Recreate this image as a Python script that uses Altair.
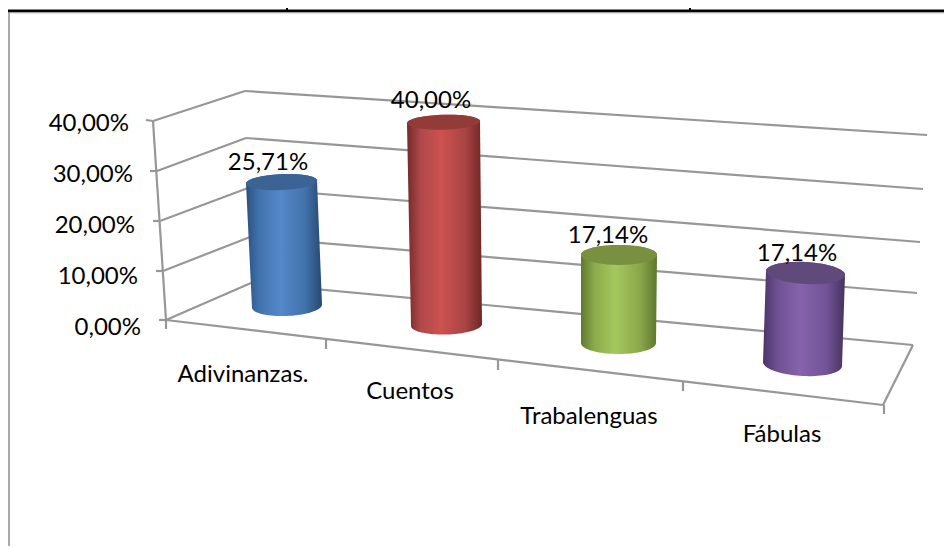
import math
import altair as alt
import pandas as pd

# ---- chart values ----
categories = ["Adivinanzas.", "Cuentos", "Trabalenguas", "Fábulas"]
values = [25.71, 40.00, 17.14, 17.14]
value_labels = ["25,71%", "40,00%", "17,14%", "17,14%"]
y_ticks = ["40,00%", "30,00%", "20,00%", "10,00%", "0,00%"]

# ---- perspective geometry of the picture (page pixels) ----
base_cx = [287, 446.5, 618.5, 802.5]
base_cy = [306, 325, 343, 364]
base_rx = [35, 35.5, 37.5, 39.5]
base_ry = [10, 9.5, 11, 12]
top_cx = [281.5, 443.5, 619, 805.5]
top_rx = [35.5, 36.5, 38, 39.5]
top_ry = [8, 7.5, 10, 11]
px_per_unit = [4.82, 5.07, 5.14, 5.31]
tilt = [-1.5, -1, 0, 2]

stops = [
    ["#2b5180", "#4273ad", "#5588c9", "#4272ab", "#25486f"],
    ["#722b29", "#b0474a", "#cc5250", "#a84442", "#6e2826"],
    ["#5f7a2f", "#8cab4c", "#a5c85e", "#89a74a", "#5e772e"],
    ["#4a3569", "#6f5193", "#8663ac", "#715396", "#46325f"],
]
cap_colors = ["#3b6495", "#933b39", "#78903f", "#604a7b"]

grid_color = "#979797"
grid_lines = [
    # (x1, y1, x2, y2)
    (153, 121, 245, 91), (245, 91, 927, 135),
    (157, 171, 246, 138), (246, 138, 923, 189),
    (160, 221, 248, 188), (248, 188, 920, 242),
    (163, 271, 250, 237), (250, 237, 917, 293),
    (166, 320, 251, 283), (251, 283, 913, 345),
    (153, 121, 166, 320),
    (166, 320, 883, 405), (883, 405, 913, 345),
    (146, 120, 153, 121), (150, 171, 157, 171), (153, 221, 160, 221),
    (156, 271, 163, 271), (159, 320, 166, 320),
    (166, 320, 166, 329), (326, 339, 326, 349), (498, 360, 498, 370),
    (683, 382, 683, 391), (884, 405, 884, 414),
]
tick_label_x = [129, 133, 135, 138, 141]
tick_label_y = [124, 175, 226, 277, 328]
cat_label_x = [243, 410, 589, 782]
cat_label_y = [375, 392, 417, 435]
val_label_x = [268, 431, 608, 797]
val_label_y = [163, 101, 236, 254]

W, H = 936, 538
X = alt.X("x:Q", axis=None, scale=alt.Scale(domain=[8, 8 + W], range=[0, W]))
Y = alt.Y("y:Q", axis=None, scale=alt.Scale(domain=[8, 8 + H], range=[0, H]))


def segments(rows, color, width):
    df = pd.DataFrame(
        [{"x": a, "y": b, "x2": c, "y2": d} for a, b, c, d in rows]
    )
    return alt.Chart(df).mark_rule(color=color, strokeWidth=width).encode(
        x=X, y=Y, x2="x2:Q", y2="y2:Q"
    )


def ellipse(cx, cy, rx, ry, t0, t1, lean, n=40):
    pts = []
    for k in range(n + 1):
        t = math.radians(t0 + (t1 - t0) * k / n)
        px = rx * math.cos(t)
        pts.append((cx + px, cy + ry * math.sin(t) + lean * px / rx))
    return pts


def polygon(pts, fill):
    df = pd.DataFrame(
        [{"i": i, "x": p[0], "y": p[1]} for i, p in enumerate(pts + pts[:1])]
    )
    return alt.Chart(df).mark_line(fill=fill, strokeWidth=0, strokeOpacity=0).encode(
        x=X, y=Y, order=alt.Order("i:Q")
    )


layers = [
    segments([(8, 11, 944, 11)], "#000000", 3),
    segments([(287, 8, 287, 11), (690, 8, 690, 11)], "#000000", 2),
    segments([(9, 13, 944, 13)], "#c8c8c8", 1),
    segments([(9, 13, 9, 546)], "#8f8f8f", 1.5),
    segments(grid_lines, grid_color, 2.2),
]

for i, v in enumerate(values):
    top_cy = base_cy[i] - v * px_per_unit[i]
    body = ellipse(base_cx[i], base_cy[i], base_rx[i], base_ry[i], 180, 0, tilt[i]) + ellipse(
        top_cx[i], top_cy, top_rx[i], top_ry[i], 0, -180, tilt[i]
    )
    grad = alt.Gradient(
        gradient="linear",
        x1=0, x2=1, y1=0, y2=0,
        stops=[
            alt.GradientStop(offset=o, color=c)
            for o, c in zip([0, 0.18, 0.45, 0.78, 1], stops[i])
        ],
    )
    layers.append(polygon(body, grad))
    layers.append(polygon(ellipse(top_cx[i], top_cy, top_rx[i], top_ry[i], 0, 360, tilt[i]), cap_colors[i]))

font = dict(font="Lato", fontSize=24, color="#000000", baseline="middle")
layers.append(
    alt.Chart(pd.DataFrame({"t": y_ticks, "x": tick_label_x, "y": tick_label_y}))
    .mark_text(align="right", **font).encode(x=X, y=Y, text="t:N")
)
layers.append(
    alt.Chart(pd.DataFrame({"t": categories, "x": cat_label_x, "y": cat_label_y}))
    .mark_text(align="center", **font).encode(x=X, y=Y, text="t:N")
)
layers.append(
    alt.Chart(pd.DataFrame({"t": value_labels, "x": val_label_x, "y": val_label_y}))
    .mark_text(align="center", **font).encode(x=X, y=Y, text="t:N")
)

chart = (
    alt.layer(*layers)
    .properties(width=W, height=H, padding=0, autosize=alt.AutoSizeParams(type="none"))
    .configure_view(stroke=None)
)
chart.save("out.html", embed_options={"renderer": "svg", "actions": False})
